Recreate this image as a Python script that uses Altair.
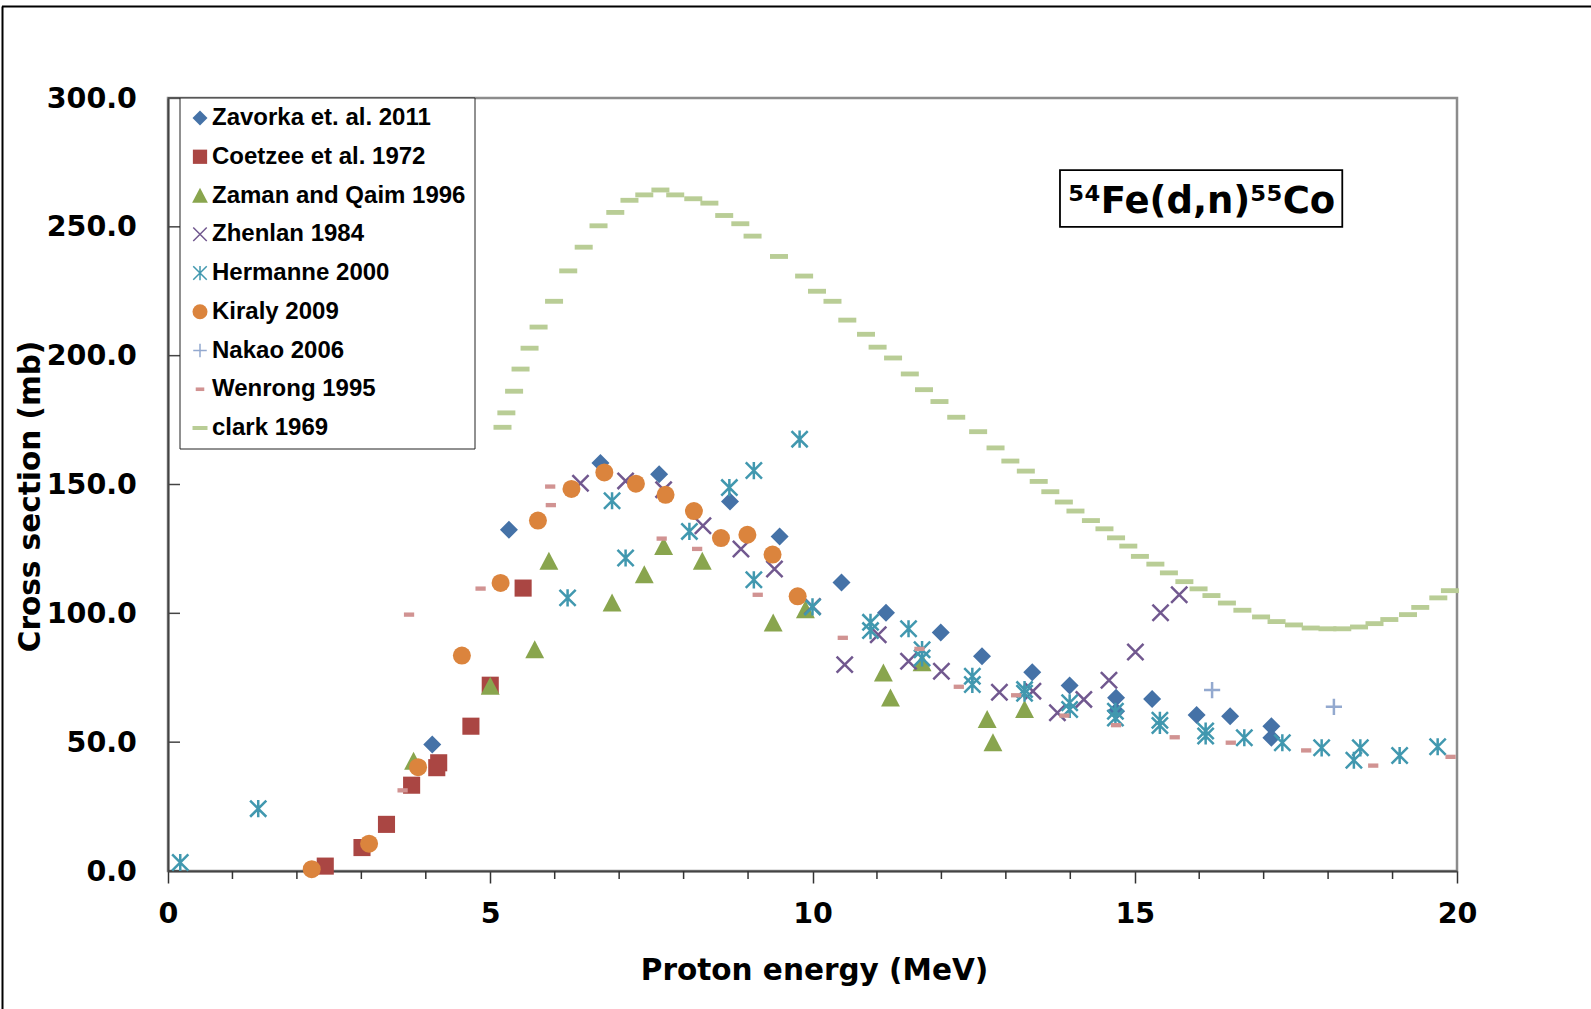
import altair as alt
import pandas as pd

# ---------------- data ----------------
series = ["Zavorka et. al. 2011", "Coetzee et al. 1972", "Zaman and Qaim 1996",
          "Zhenlan 1984", "Hermanne 2000", "Kiraly 2009", "Nakao 2006",
          "Wenrong 1995", "clark 1969"]

zavorka_x = [4.10, 5.29, 6.71, 7.62, 8.72, 9.49, 10.45, 11.14, 11.99, 12.63, 13.41, 13.99,
             14.71, 14.71, 15.27, 15.96, 16.48, 17.12, 17.12]
zavorka_y = [49.1, 132.4, 158.3, 154.0, 143.4, 129.8, 112.0, 100.2, 92.6, 83.3, 77.1, 72.0,
             67.2, 62.0, 66.8, 60.5, 60.1, 56.2, 51.7]

coetzee_x = [2.44, 3.01, 3.39, 3.78, 4.17, 4.20, 4.70, 5.00, 5.51]
coetzee_y = [1.9, 9.1, 18.1, 33.3, 40.1, 42.0, 56.2, 72.1, 109.8]

zaman_x = [3.81, 5.00, 5.69, 5.91, 6.89, 7.39, 7.69, 8.29, 9.39, 9.89, 11.10, 11.21,
           11.70, 12.71, 12.80, 13.29]
zaman_y = [42.6, 71.7, 85.9, 120.2, 104.0, 115.0, 126.0, 120.2, 96.3, 101.4, 76.9, 67.2,
           80.8, 58.8, 49.8, 62.7]

zhenlan_x = [6.40, 7.10, 7.69, 8.30, 8.89, 9.41, 10.00, 10.50, 11.02, 11.49, 12.00, 12.90,
             13.42, 13.80, 14.21, 14.60, 15.01, 15.40, 15.69]
zhenlan_y = [150.5, 151.4, 148.0, 134.0, 125.0, 117.2, 102.7, 80.1, 91.7, 81.4, 77.5, 69.4,
             69.8, 61.4, 66.6, 74.0, 85.0, 100.2, 107.2]

hermanne_x = [0.19, 1.40, 6.20, 6.89, 7.10, 8.09, 8.71, 9.09, 9.09, 9.80, 10.00, 10.90,
              10.90, 11.49, 11.70, 11.70, 12.48, 12.48, 13.29, 13.29, 13.99, 13.99, 14.70,
              14.70, 15.39, 15.39, 16.10, 16.10, 16.70, 17.29, 17.90, 18.40, 18.50, 19.11,
              19.70]
hermanne_y = [3.3, 24.2, 106.0, 143.7, 121.5, 131.8, 148.8, 155.4, 113.0, 167.6, 102.5, 96.5,
              93.3, 94.0, 85.9, 82.7, 75.6, 72.4, 70.4, 69.0, 65.3, 62.7, 62.0,
              59.4, 58.5, 56.5, 54.3, 52.4, 51.7, 49.8, 47.8, 43.0, 47.8, 44.8,
              48.2]

kiraly_x = [2.23, 3.12, 3.88, 4.56, 5.16, 5.74, 6.26, 6.77, 7.26, 7.72, 8.16, 8.58, 8.99,
            9.38, 9.77]
kiraly_y = [0.7, 10.6, 40.3, 83.6, 111.8, 136.0, 148.3, 154.7, 150.3, 146.0, 139.7, 129.2,
            130.5, 122.8, 106.6]

nakao_x = [16.20, 18.09]
nakao_y = [70.2, 63.7]

wenrong_x = [3.64, 3.74, 4.85, 5.93, 5.94, 7.66, 8.21, 9.15, 10.47, 11.66, 12.27, 13.16,
             13.91, 14.71, 15.62, 16.49, 17.66, 18.70, 19.90]
wenrong_y = [31.3, 99.5, 109.6, 149.2, 142.0, 129.0, 125.0, 107.2, 90.5, 86.2, 71.5, 68.2,
             60.3, 56.6, 51.9, 49.8, 46.8, 40.9, 44.3]

clark_x = [5.19, 5.25, 5.37, 5.47, 5.61, 5.75, 5.99, 6.21, 6.45, 6.68, 6.94, 7.16, 7.39,
           7.64, 7.87, 8.15, 8.40, 8.63, 8.88, 9.07, 9.48, 9.87, 10.07, 10.31, 10.54, 10.83,
           11.01, 11.25, 11.51, 11.73, 11.97, 12.23, 12.57, 12.84, 13.07, 13.31, 13.51, 13.69,
           13.90, 14.08, 14.32, 14.53, 14.71, 14.90, 15.08, 15.32, 15.53, 15.77, 15.99, 16.19,
           16.43, 16.67, 16.96, 17.20, 17.47, 17.73, 17.99, 18.22, 18.48, 18.72, 18.95, 19.24,
           19.43, 19.71, 19.89]
clark_y = [172.2, 177.8, 186.2, 194.8, 202.9, 211.1, 221.1, 232.9, 242.1, 250.4, 255.6,
           260.3, 262.4, 264.3, 262.4, 260.9, 259.2, 254.4, 251.2, 246.4, 238.5, 230.9, 225.0,
           221.1, 213.8, 208.3, 203.3, 199.1, 192.9, 186.8, 182.2, 176.1, 170.5, 164.2, 159.1,
           155.2, 151.2, 147.2, 143.2, 139.7, 136.0, 132.8, 129.3, 126.1, 122.1, 119.1, 115.7,
           112.3, 109.5, 106.9, 104.0, 101.2, 98.6, 96.8, 95.5, 94.3, 94.0, 94.0, 94.7, 96.0,
           97.6, 99.5, 102.3, 106.0, 108.8]

x_major_ticks = [0, 5, 10, 15, 20]
x_minor_ticks = [1, 2, 3, 4, 6, 7, 8, 9, 11, 12, 13, 14, 16, 17, 18, 19]
y_ticks = [0, 50, 100, 150, 200, 250, 300]

reaction_label = ["\u2075\u2074Fe(d,n)\u2075\u2075Co"]
label_box_x = [13.84]
label_box_x2 = [18.22]
label_box_y = [272.0]
label_box_y2 = [250.0]
label_pos_x = [16.04]
label_pos_y = [255.2]

# ---------------- styling ----------------
fill_range = ["#4572A7", "#AA4643", "#89A54E", "transparent", "transparent", "#DB843D",
              "transparent", "#D19392", "#B9CD96"]
stroke_range = ["transparent", "transparent", "transparent", "#71588F", "#4198AF",
                "transparent", "#93A9CF", "transparent", "transparent"]
shape_range = [
    "M0,-1L1,0L0,1L-1,0Z",                                   # diamond
    "M-0.95,-0.95H0.95V0.95H-0.95Z",                         # square
    "M0,-1.05L1.05,0.95H-1.05Z",                             # triangle
    "M-0.9,-0.9L0.9,0.9M-0.9,0.9L0.9,-0.9",                  # x
    "M-0.9,-0.9L0.9,0.9M-0.9,0.9L0.9,-0.9M0,-0.95L0,0.95",   # asterisk
    "circle",                                                # circle
    "M-0.9,0H0.9M0,-0.9V0.9",                                # plus
    "M-0.57,-0.24H0.57V0.24H-0.57Z",                         # short dash
    "M-1,-0.27H1V0.27H-1Z",                                  # long dash
]

all_x = [zavorka_x, coetzee_x, zaman_x, zhenlan_x, hermanne_x, kiraly_x, nakao_x,
         wenrong_x, clark_x]
all_y = [zavorka_y, coetzee_y, zaman_y, zhenlan_y, hermanne_y, kiraly_y, nakao_y,
         wenrong_y, clark_y]

rows = []
for name, xs, ys in zip(series, all_x, all_y):
    for xv, yv in zip(xs, ys):
        rows.append({"energy": xv, "xs": yv, "series": name})
df = pd.DataFrame(rows)

W, H = 1289, 773
AX_FONT = "DejaVu Sans"

xscale = alt.Scale(domain=[0, 20], nice=False, zero=False)
yscale = alt.Scale(domain=[0, 300], nice=False, zero=False)

xaxis = alt.Axis(values=x_major_ticks, format="d", grid=False, tickSize=12, tickWidth=1.5,
                 tickColor="#333333", domainColor="#444444", domainWidth=2,
                 labelFont=AX_FONT, labelFontWeight="bold", labelFontSize=28.5,
                 labelColor="black", labelPadding=16.5, labelFlush=False,
                 labelOverlap=False,
                 title="Proton energy (MeV)", titleFont=AX_FONT, titleFontWeight="bold",
                 titleFontSize=29.5, titleColor="black", titleX=646, titleY=108.5,
                 titleBaseline="alphabetic", titleAlign="center")
yaxis = alt.Axis(values=y_ticks, format=".1f", grid=False, ticks=False, tickSize=0,
                 domainColor="#444444", domainWidth=2,
                 labelFont=AX_FONT, labelFontWeight="bold", labelFontSize=28.5,
                 labelColor="black", labelPadding=31.6, labelFlush=False,
                 labelOverlap=False,
                 title="Cross section (mb)", titleFont=AX_FONT, titleFontWeight="bold",
                 titleFontSize=29.5, titleColor="black", titleX=-138, titleY=398,
                 titleAngle=270, titleBaseline="middle", titleAlign="center")

x_enc = alt.X("energy:Q", scale=xscale, axis=xaxis)
y_enc = alt.Y("xs:Q", scale=yscale, axis=yaxis)

legend = alt.Legend(orient="none", legendX=11.5, legendY=-0.5, title=None,
                    labelFont="Liberation Sans", labelFontWeight="bold", labelFontSize=24,
                    labelColor="black", labelLimit=500, labelOffset=0,
                    symbolSize=225, symbolStrokeWidth=1.5, padding=8.5, rowPadding=14.75,
                    strokeColor="#222222", fillColor="white")

points = alt.Chart(df).mark_point(size=324, opacity=1, strokeWidth=2.5).encode(
    x=x_enc,
    y=y_enc,
    shape=alt.Shape("series:N", scale=alt.Scale(domain=series, range=shape_range), legend=legend),
    fill=alt.Fill("series:N", scale=alt.Scale(domain=series, range=fill_range), legend=legend),
    stroke=alt.Stroke("series:N", scale=alt.Scale(domain=series, range=stroke_range), legend=legend),
)

minor = alt.Chart(pd.DataFrame({"energy": x_minor_ticks})).mark_rule(
    color="#333333", strokeWidth=1.5).encode(x=x_enc, y=alt.value(H), y2=alt.value(H + 8))

yticks = alt.Chart(pd.DataFrame({"xs": y_ticks})).mark_rule(
    color="#444444", strokeWidth=1.5).encode(y=y_enc, x=alt.value(0), x2=alt.value(12))

ann_df = pd.DataFrame({"energy": label_box_x, "energy_end": label_box_x2,
                       "xs": label_box_y, "xs_end": label_box_y2})
box = alt.Chart(ann_df).mark_rect(fill="white", stroke="black", strokeWidth=1.8).encode(
    x=x_enc, x2="energy_end:Q", y=y_enc, y2="xs_end:Q")

txt_df = pd.DataFrame({"energy": label_pos_x, "xs": label_pos_y, "label": reaction_label})
label = alt.Chart(txt_df).mark_text(font=AX_FONT, fontWeight="bold", fontSize=37,
                                    baseline="alphabetic", align="center", color="black").encode(
    x=x_enc, y=y_enc, text="label:N")

one = pd.DataFrame({"d": [0]})
frame_top = alt.Chart(one).mark_rule(color="black", strokeWidth=2).encode(
    x=alt.value(-166), x2=alt.value(1500), y=alt.value(-91.5))
frame_left = alt.Chart(one).mark_rule(color="black", strokeWidth=2).encode(
    x=alt.value(-165.5), y=alt.value(-91.5), y2=alt.value(960))

chart = alt.layer(frame_top, frame_left, box, label, minor, yticks, points).properties(
    width=W, height=H,
    padding={"left": 168, "top": 98, "right": 134, "bottom": 138},
    autosize=alt.AutoSizeParams(type="none"),
    background="white",
).configure_view(stroke="#8c8c8c", strokeWidth=2.5)

chart.save("out.html", embed_options={"renderer": "svg", "actions": False})
